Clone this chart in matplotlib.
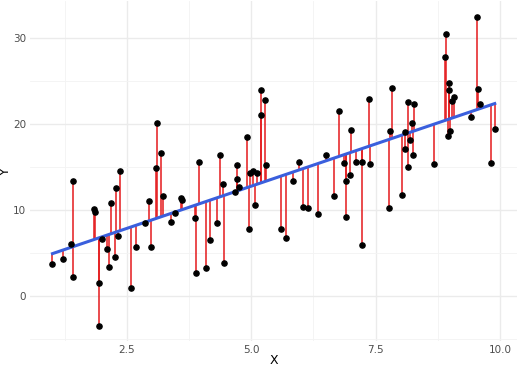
import numpy as np
import matplotlib
matplotlib.use('Agg')
import matplotlib.pyplot as plt
from matplotlib.ticker import MultipleLocator

x = np.array([1.004, 1.225, 1.380, 1.414, 1.414, 1.843, 1.853, 1.929, 1.929, 2.009,
              2.098, 2.144, 2.178, 2.251, 2.285, 2.325, 2.371, 2.577, 2.687, 2.862,
              2.949, 2.983, 3.083, 3.095, 3.190, 3.216, 3.391, 3.471, 3.586, 3.606,
              3.859, 3.880, 3.948, 4.095, 4.169, 4.316, 4.366, 4.422, 4.457, 4.678,
              4.718, 4.718, 4.758, 4.913, 4.953, 4.980, 5.040, 5.074, 5.114, 5.195,
              5.201, 5.281, 5.301, 5.597, 5.702, 5.843, 5.959, 6.039, 6.150, 6.347,
              6.512, 6.659, 6.763, 6.874, 6.900, 6.910, 6.987, 7.011, 7.097, 7.218,
              7.236, 7.372, 7.389, 7.771, 7.781, 7.821, 8.032, 8.086, 8.099, 8.142,
              8.157, 8.191, 8.234, 8.260, 8.280, 8.668, 8.887, 8.925, 8.953, 8.978,
              8.976, 9.000, 9.038, 9.066, 9.410, 9.537, 9.561, 9.607, 9.812, 9.895])
y = np.array([3.68, 4.30, 6.04, 13.39, 2.24, 10.10, 9.72, 1.48, -3.43, 6.62,
              5.42, 3.37, 10.84, 4.47, 12.51, 6.93, 14.52, 0.93, 5.73, 8.44,
              11.03, 5.69, 14.90, 20.09, 16.57, 11.65, 8.59, 9.61, 11.42, 11.11,
              9.06, 2.71, 15.53, 3.29, 6.50, 8.48, 16.32, 13.01, 3.80, 12.11,
              15.18, 13.62, 12.69, 18.47, 7.78, 14.23, 14.55, 10.60, 14.31, 21.05,
              23.89, 22.76, 15.25, 7.78, 6.76, 13.36, 15.53, 10.34, 10.20, 9.56,
              16.40, 11.56, 21.52, 15.42, 13.36, 9.21, 14.05, 19.25, 15.53, 15.53,
              5.90, 22.85, 15.30, 10.19, 19.16, 24.12, 11.73, 19.01, 17.06, 15.02,
              22.51, 18.12, 20.09, 16.40, 22.24, 15.28, 27.72, 30.46, 18.55, 24.77,
              23.96, 19.19, 22.68, 23.14, 20.79, 32.40, 24.08, 22.32, 15.39, 19.34])

# linear fit, residual segments go from point to fitted value
slope, icpt = np.polyfit(x, y, 1)
fitted = icpt + slope * x
xs = np.array([x.min(), x.max()])

fig = plt.figure(figsize=(5.2, 3.67), dpi=100)
ax = fig.add_axes([0.058, 0.071, 0.936, 0.925])

ax.vlines(x, fitted, y, color='#E41A1C', lw=1.1, zorder=2)
ax.plot(xs, icpt + slope * xs, color='#3A5FDD', lw=2.2, zorder=3)
ax.scatter(x, y, s=14, color='black', zorder=4)

ax.set_xlim(0.555, 10.34)
ax.set_ylim(-5.22, 34.2)
ax.xaxis.set_major_locator(MultipleLocator(2.5))
ax.xaxis.set_minor_locator(MultipleLocator(1.25))
ax.yaxis.set_major_locator(MultipleLocator(10))
ax.yaxis.set_minor_locator(MultipleLocator(5))
ax.set_xticks([2.5, 5.0, 7.5, 10.0])
ax.set_xticklabels(['2.5', '5.0', '7.5', '10.0'])

ax.grid(which='major', color='#EBEBEB', lw=1.0, zorder=0)
ax.grid(which='minor', color='#F3F3F3', lw=0.6, zorder=0)
ax.set_axisbelow(True)
for s in ax.spines.values():
    s.set_visible(False)
ax.tick_params(which='both', length=0, labelsize=7.5, labelcolor='#4D4D4D', pad=3)

ax.set_xlabel('X', fontsize=9, va='center')
ax.set_ylabel('Y', fontsize=9, va='center')
ax.xaxis.set_label_coords(0.5, -0.058)
ax.yaxis.set_label_coords(-0.05, 0.5)

fig.savefig('out.png', dpi=100)
